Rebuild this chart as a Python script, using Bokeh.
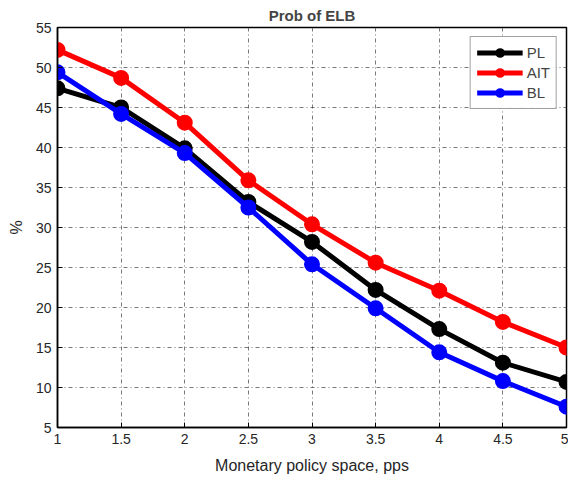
from bokeh.plotting import figure
from bokeh.models import Range1d, FixedTicker, Legend, LegendItem
from bokeh.embed import file_html
from bokeh.resources import INLINE

space = [1, 1.5, 2, 2.5, 3, 3.5, 4, 4.5, 5]
pl = [47.4, 45.0, 39.9, 33.2, 28.2, 22.2, 17.3, 13.1, 10.7]
ait = [52.2, 48.7, 43.1, 35.9, 30.4, 25.6, 22.1, 18.2, 15.0]
bl = [49.4, 44.2, 39.3, 32.5, 25.4, 19.9, 14.4, 10.8, 7.6]
x_ticks = [1, 1.5, 2, 2.5, 3, 3.5, 4, 4.5, 5]
y_ticks = [5, 10, 15, 20, 25, 30, 35, 40, 45, 50, 55]

p = figure(width=568, height=476, output_backend="svg", toolbar_location=None,
           x_range=Range1d(1, 5), y_range=Range1d(5, 55),
           min_border_left=57, min_border_right=2, min_border_top=27, min_border_bottom=46)
p.title.text = "Prob of ELB"
p.title.align = "center"
p.title.text_font = "Liberation Sans"
p.title.text_font_size = "15px"
p.title.text_font_style = "bold"
p.title.offset = 0
p.title.standoff = 8

p.outline_line_color = "black"
p.outline_line_width = 1.5

for ax in (p.xaxis[0], p.yaxis[0]):
    ax.major_label_text_font = "Liberation Sans"
    ax.major_label_text_font_size = "14px"
    ax.major_label_text_color = "#262626"
    ax.axis_label_text_font = "Liberation Sans"
    ax.axis_label_text_font_size = "16px"
    ax.axis_label_text_font_style = "normal"
    ax.axis_label_text_color = "#262626"
    ax.major_tick_in = 5
    ax.major_tick_out = 0
    ax.minor_tick_in = 0
    ax.minor_tick_out = 0
    ax.axis_line_color = "black"
    ax.axis_line_width = 1.5

p.xaxis.ticker = FixedTicker(ticks=x_ticks)
p.yaxis.ticker = FixedTicker(ticks=y_ticks)
p.xaxis.axis_label = "Monetary policy space, pps"
p.yaxis.axis_label = "%"
p.xaxis.major_label_standoff = 6
p.yaxis.major_label_standoff = 6
p.xaxis.axis_label_standoff = 10
p.yaxis.axis_label_standoff = 8

p.xgrid.grid_line_color = "#404040"
p.ygrid.grid_line_color = "#404040"
p.xgrid.grid_line_dash = "4 3 1 3"
p.ygrid.grid_line_dash = "4 3 1 3"
p.xgrid.grid_line_width = 1
p.ygrid.grid_line_width = 1
p.xgrid.grid_line_alpha = 0.7
p.ygrid.grid_line_alpha = 0.7

items = []
for name, vals, col in [("PL", pl, "black"), ("AIT", ait, "red"), ("BL", bl, "blue")]:
    r1 = p.line(space, vals, line_color=col, line_width=5)
    r2 = p.scatter(space, vals, marker="circle", size=14, fill_color=col, line_color=col, line_width=2)
    items.append(LegendItem(label=name, renderers=[r1, r2]))

leg = Legend(items=items, location="top_right")
leg.label_text_font = "Liberation Sans"
leg.label_text_font_size = "15px"
leg.glyph_width = 46
leg.glyph_height = 19
leg.spacing = 1
leg.padding = 6
leg.margin = 9
leg.border_line_color = "#444444"
leg.border_line_width = 1
leg.label_standoff = 4
p.add_layout(leg)

open("out.html", "w").write(file_html(p, INLINE))
